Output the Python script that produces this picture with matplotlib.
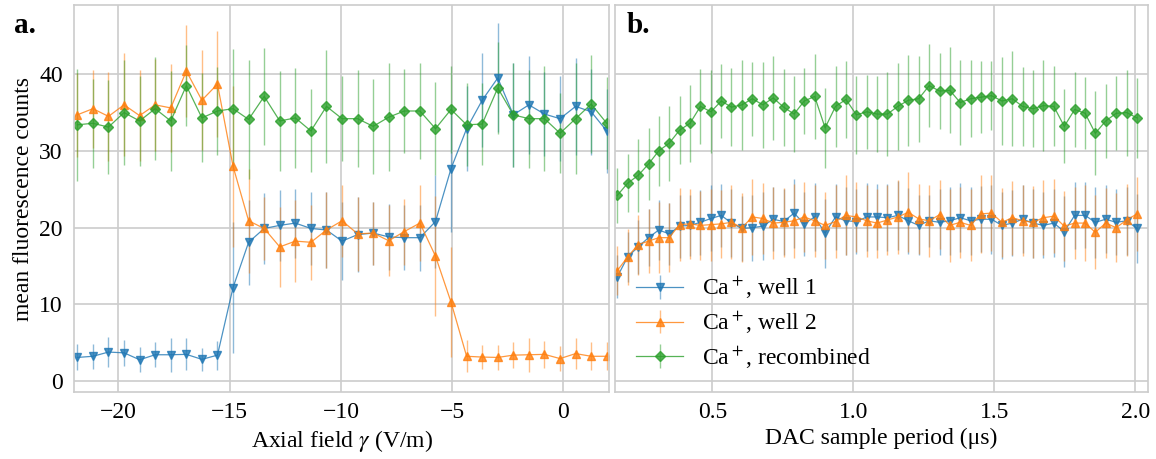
import numpy as np
import matplotlib
matplotlib.use("Agg")
import matplotlib.pyplot as plt

# panel a: axial field scan
field = [-21.85, -21.15, -20.45, -19.75, -19.05, -18.35, -17.65, -16.95, -16.25, -15.55,
         -14.85, -14.15, -13.45, -12.75, -12.05, -11.35, -10.65, -9.95, -9.25, -8.55,
         -7.85, -7.15, -6.45, -5.75, -5.05, -4.35, -3.65, -2.95, -2.25, -1.55,
         -0.85, -0.15, 0.55, 1.25, 1.95]
a_well1 = [3.1, 3.25, 3.8, 3.7, 2.8, 3.45, 3.45, 3.5, 2.85, 3.4,
           12.2, 18.1, 19.9, 20.3, 20.6, 19.9, 19.7, 18.25, 19.1, 19.3,
           18.8, 18.7, 18.7, 20.8, 27.7, 32.9, 36.6, 39.5, 34.7, 36.0,
           34.8, 34.2, 35.8, 35.1, 32.6]
a_well1_err = [1.7, 1.6, 2.0, 1.7, 1.6, 1.6, 2.2, 2.1, 1.5, 1.9,
               8.5, 5.5, 4.6, 4.6, 4.5, 4.7, 4.9, 5.1, 4.9, 4.1,
               4.3, 4.2, 4.3, 6.0, 8.2, 5.5, 6.1, 7.1, 6.8, 6.4,
               5.5, 5.5, 6.3, 5.6, 5.5]
a_well2 = [34.7, 35.5, 34.5, 36.0, 34.6, 36.0, 35.6, 40.4, 36.6, 38.7,
           28.0, 20.9, 19.9, 17.5, 18.25, 18.1, 19.7, 20.9, 19.2, 19.3,
           18.3, 19.5, 20.6, 16.3, 10.3, 3.25, 3.15, 3.1, 3.4, 3.45,
           3.5, 2.95, 3.6, 3.25, 3.25]
a_well2_err = [5.5, 5.1, 5.8, 6.7, 5.9, 6.0, 5.7, 6.0, 6.5, 6.9,
               10.5, 6.8, 4.1, 5.2, 5.3, 4.9, 4.9, 4.7, 4.8, 4.1,
               4.6, 4.3, 4.9, 7.8, 7.2, 2.1, 1.6, 1.6, 1.7, 2.2,
               1.8, 1.6, 2.0, 1.8, 1.8]
a_recomb = [33.4, 33.6, 33.1, 35.0, 33.9, 35.5, 33.9, 38.5, 34.3, 35.2,
            35.5, 34.1, 37.1, 33.9, 34.3, 32.6, 35.8, 34.2, 34.2, 33.2,
            34.4, 35.2, 35.2, 32.9, 35.4, 33.4, 33.5, 38.2, 34.7, 34.2,
            34.2, 32.3, 34.2, 36.1, 33.6]
a_recomb_err = [7.3, 5.8, 6.1, 6.8, 5.9, 6.7, 6.5, 5.3, 5.8, 5.7,
                7.8, 7.7, 6.3, 6.5, 6.5, 5.4, 7.4, 5.5, 6.3, 6.2,
                7.0, 5.5, 6.2, 6.1, 5.7, 5.4, 5.3, 6.0, 6.8, 6.4,
                6.8, 5.2, 7.2, 6.4, 6.0]

# panel b: DAC sample period scan
period = [0.163, 0.200, 0.237, 0.274, 0.310, 0.347, 0.384, 0.421, 0.458, 0.495,
          0.532, 0.568, 0.605, 0.642, 0.679, 0.716, 0.753, 0.790, 0.826, 0.863,
          0.900, 0.937, 0.974, 1.011, 1.048, 1.084, 1.121, 1.158, 1.195, 1.232,
          1.269, 1.306, 1.342, 1.379, 1.416, 1.453, 1.490, 1.527, 1.564, 1.600,
          1.637, 1.674, 1.711, 1.748, 1.785, 1.822, 1.858, 1.895, 1.932, 1.969,
          2.006]
b_well1 = [13.6, 16.2, 17.5, 18.7, 19.7, 19.2, 20.2, 20.3, 20.7, 21.2,
           21.6, 20.6, 19.9, 20.0, 20.2, 21.1, 20.8, 21.9, 20.5, 21.4,
           19.3, 21.4, 20.9, 20.8, 21.4, 21.4, 21.3, 21.6, 20.9, 20.3,
           20.9, 20.7, 20.9, 21.3, 20.9, 21.1, 21.1, 20.3, 20.6, 21.1,
           20.6, 20.3, 20.6, 19.5, 21.6, 21.6, 20.7, 21.1, 20.7, 20.9,
           19.9]
b_well1_err = [2.8, 3.3, 3.5, 3.7, 3.9, 4.0, 4.1, 4.0, 4.2, 4.3,
               4.1, 4.4, 4.2, 4.3, 4.4, 4.2, 4.3, 4.5, 4.2, 4.4,
               4.5, 4.3, 4.4, 4.2, 4.4, 4.3, 4.4, 4.5, 4.3, 3.9,
               3.4, 4.3, 4.4, 4.5, 4.4, 4.3, 4.5, 4.4, 4.3, 4.4,
               4.5, 4.3, 4.4, 4.6, 4.4, 4.3, 4.6, 4.4, 4.3, 4.4,
               4.5]
b_well2 = [14.4, 16.2, 17.8, 18.25, 18.7, 18.7, 20.4, 20.5, 20.3, 20.4,
           20.5, 20.7, 20.0, 21.4, 21.2, 20.6, 20.7, 20.9, 21.4, 20.9,
           20.3, 20.8, 21.6, 21.4, 20.9, 20.6, 21.0, 21.4, 22.0, 21.15,
           20.9, 21.7, 20.3, 20.7, 20.3, 21.8, 21.9, 20.7, 21.3, 20.9,
           20.7, 21.3, 21.5, 20.2, 20.6, 20.6, 19.4, 20.6, 20.0, 21.0,
           21.8]
b_well2_err = [3.2, 3.6, 3.9, 4.2, 4.6, 4.5, 4.8, 4.6, 4.5, 4.7,
               4.4, 4.8, 4.5, 4.9, 4.6, 4.7, 4.5, 4.8, 4.6, 4.7,
               4.4, 4.8, 5.2, 4.6, 4.7, 4.5, 4.6, 4.8, 5.2, 4.6,
               4.7, 4.5, 4.8, 4.6, 4.7, 5.1, 4.9, 4.5, 4.8, 4.6,
               4.7, 4.9, 4.8, 4.6, 4.7, 4.9, 4.8, 4.6, 4.5, 4.7,
               4.8]
b_recomb = [24.2, 25.8, 26.8, 28.3, 30.0, 31.0, 32.7, 33.6, 35.8, 35.1,
            36.5, 35.7, 36.0, 36.8, 36.0, 36.9, 35.7, 34.8, 36.5, 37.1,
            33.0, 35.8, 36.7, 34.7, 35.1, 34.8, 34.8, 35.8, 36.6, 36.8,
            38.5, 37.8, 37.9, 36.3, 36.8, 37.0, 37.2, 36.5, 36.8, 35.8,
            35.5, 35.9, 35.8, 33.2, 35.4, 34.9, 32.3, 33.9, 34.9, 35.0,
            34.3]
b_recomb_err = [3.6, 3.8, 4.8, 4.7, 4.6, 4.9, 4.4, 5.0, 4.9, 5.4,
                4.8, 5.1, 5.9, 4.8, 5.6, 5.5, 5.0, 4.9, 4.3, 5.5,
                5.2, 5.3, 5.0, 5.1, 4.8, 5.0, 5.5, 5.7, 5.9, 5.6,
                5.4, 5.0, 5.6, 5.5, 5.0, 4.7, 4.5, 5.7, 6.2, 5.1,
                5.0, 5.9, 5.2, 4.8, 4.9, 4.7, 5.5, 4.8, 4.8, 5.6,
                5.2]

labels = ["Ca$^+$, well 1", "Ca$^+$, well 2", "Ca$^+$, recombined"]
colors = ["#1f77b4", "#ff7f0e", "#2ca02c"]
markers = ["v", "^", "D"]
msizes = [5.5, 5.5, 4.6]

plt.rcParams["font.family"] = ["Liberation Serif", "DejaVu Serif"]
plt.rcParams["mathtext.fontset"] = "stix"
plt.rcParams["font.size"] = 17
plt.rcParams["axes.edgecolor"] = "0.8"
plt.rcParams["axes.linewidth"] = 1.2
plt.rcParams["grid.color"] = "0.8"
plt.rcParams["grid.linewidth"] = 1.2
plt.rcParams["xtick.major.size"] = 0
plt.rcParams["ytick.major.size"] = 0
plt.rcParams["xtick.major.pad"] = 7
plt.rcParams["ytick.major.pad"] = 8
plt.rcParams["axes.unicode_minus"] = True


def draw(ax, x, y, e, i):
    c = ax.errorbar(x, y, yerr=e, color=colors[i], marker=markers[i], ms=msizes[i],
                    lw=0.9, elinewidth=1.0, alpha=0.8, label=labels[i])
    c[2][0].set_alpha(0.5)
    return c


fig = plt.figure(figsize=(11.56, 4.59), dpi=100)
ax1 = fig.add_axes([0.064, 0.146, 0.4628, 0.843])
ax2 = fig.add_axes([0.532, 0.146, 0.4611, 0.843], sharey=ax1)

draw(ax1, field, a_well1, a_well1_err, 0)
draw(ax1, field, a_well2, a_well2_err, 1)
draw(ax1, field, a_recomb, a_recomb_err, 2)

draw(ax2, period, b_well1, b_well1_err, 0)
draw(ax2, period, b_well2, b_well2_err, 1)
draw(ax2, period, b_recomb, b_recomb_err, 2)

for ax in (ax1, ax2):
    ax.grid(True)
    ax.set_axisbelow(True)

ax1.set_xlim(-22.0, 2.05)
ax1.set_ylim(-1.4, 49)
ax1.set_xticks([-20, -15, -10, -5, 0])
ax1.set_yticks([0, 10, 20, 30, 40])
ax1.set_xlabel(r"Axial field $\gamma$ (V/m)")
ax1.set_ylabel("mean fluorescence counts")

ax2.set_xlim(0.155, 2.045)
ax2.set_xticks([0.5, 1.0, 1.5, 2.0])
ax2.set_xticklabels(["0.5", "1.0", "1.5", "2.0"])
ax2.set_xlabel("DAC sample period (μs)")
plt.setp(ax2.get_yticklabels(), visible=False)

ax1.text(-0.112, 0.928, "a.", transform=ax1.transAxes, fontweight="bold",
         fontsize=21, va="baseline")
ax2.text(0.022, 0.928, "b.", transform=ax2.transAxes, fontweight="bold",
         fontsize=21, va="baseline")

ax2.legend(loc="lower left", frameon=False, handlelength=2.0, handletextpad=0.8,
           labelspacing=0.35)

plt.savefig("out.png", dpi=100)
